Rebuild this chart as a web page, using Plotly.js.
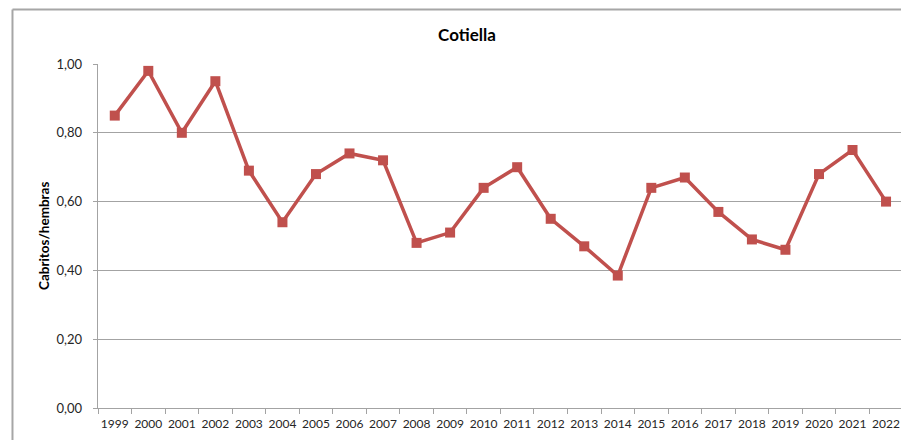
<!DOCTYPE html>
<html>
<head>
<meta charset="utf-8">
<script src="https://cdn.plot.ly/plotly-3.0.1.min.js"></script>
<style>
  html, body { margin: 0; padding: 0; background: #fff; }
  #chart { width: 901px; height: 440px; }
</style>
</head>
<body>
<div id="chart"></div>
<script>
// Cabritos por hembra en Cotiella, 1999-2022
const years = ['1999','2000','2001','2002','2003','2004','2005','2006','2007','2008','2009','2010',
               '2011','2012','2013','2014','2015','2016','2017','2018','2019','2020','2021','2022'];
const ratio = [0.85, 0.98, 0.80, 0.95, 0.69, 0.54, 0.68, 0.74, 0.72, 0.48, 0.51, 0.64,
               0.70, 0.55, 0.47, 0.385, 0.64, 0.67, 0.57, 0.49, 0.46, 0.68, 0.75, 0.60];
const yTicks = [0, 0.2, 0.4, 0.6, 0.8, 1.0];

const red = '#C0504D';
const grid = '#A3A3A3';
const font = 'Lato, "Liberation Sans", Arial, sans-serif';

const trace = {
  type: 'scatter',
  mode: 'lines+markers',
  x: years,
  y: ratio,
  line: { color: red, width: 3.5 },
  marker: { symbol: 'square', size: 10, color: red },
  hoverinfo: 'x+y'
};

const layout = {
  width: 901,
  height: 440,
  separators: ',.',
  margin: { l: 98, r: 0, t: 64, b: 32, pad: 0 },
  paper_bgcolor: '#fff',
  plot_bgcolor: '#fff',
  showlegend: false,
  font: { family: font, size: 12, color: '#262626' },
  title: {
    text: 'Cotiella',
    font: { family: font, size: 17, color: '#000', weight: 'bold' },
    xref: 'paper', x: 0.4595, xanchor: 'center',
    yref: 'container', y: 0.92, yanchor: 'middle'
  },
  xaxis: {
    type: 'category',
    range: [-0.5, 23.446],
    tickson: 'boundaries',
    tickangle: 0,
    ticks: 'outside', ticklen: 5, tickcolor: grid, tickwidth: 1,
    ticklabelstandoff: 4,
    showgrid: false,
    showline: true, linecolor: grid, linewidth: 1.3,
    zeroline: false,
    tickfont: { family: font, size: 12, color: '#262626' },
    fixedrange: true
  },
  yaxis: {
    range: [0, 1],
    tickvals: yTicks,
    tickformat: '.2f',
    ticks: 'outside', ticklen: 4, tickcolor: grid, tickwidth: 1,
    ticklabelstandoff: 8,
    showgrid: true, gridcolor: grid, gridwidth: 1.3,
    showline: true, linecolor: grid, linewidth: 1.3,
    zeroline: false,
    tickfont: { family: font, size: 13, color: '#262626' },
    fixedrange: true
  },
  annotations: [{
    text: '<b>Cabritos/hembras</b>',
    textangle: -90,
    xref: 'paper', yref: 'paper',
    x: -0.0672, y: 0.5,
    xanchor: 'center', yanchor: 'middle',
    showarrow: false,
    font: { family: font, size: 13.5, color: '#000' }
  }],
  shapes: [
    // chart frame (left and top edges)
    { type: 'line', xref: 'paper', yref: 'paper', x0: -0.1065, x1: -0.1065, y0: -0.2, y1: 1.1585,
      line: { color: '#A6A6A6', width: 2 } },
    { type: 'line', xref: 'paper', yref: 'paper', x0: -0.1065, x1: 1.05, y0: 1.1585, y1: 1.1585,
      line: { color: '#A6A6A6', width: 2 } }
  ]
};

Plotly.newPlot('chart', [trace], layout, { displayModeBar: false, staticPlot: true });
</script>
</body>
</html>
